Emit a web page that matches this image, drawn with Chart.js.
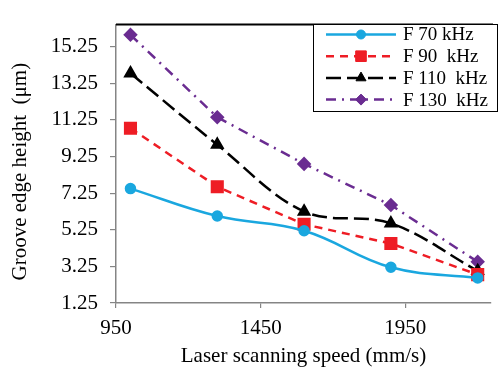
<!DOCTYPE html>
<html><head><meta charset="utf-8">
<script src="https://cdn.jsdelivr.net/npm/chart.js@4/dist/chart.umd.min.js"></script>
<style>html,body{margin:0;padding:0;background:#fff;overflow:hidden}</style>
</head><body>
<canvas id="c" width="501" height="367" style="display:block;width:501px;height:367px"></canvas>
<script>
const speeds = [1000, 1300, 1600, 1900, 2200];
const f70  = [7.5, 6.0, 5.2, 3.2, 2.62];
const f90  = [10.8, 7.6, 5.55, 4.5, 2.8];
const f110 = [13.8, 9.9, 6.25, 5.6, 3.0];
const f130 = [15.9, 11.4, 8.85, 6.6, 3.5];
const seriesLabels = ['F 70 kHz', 'F 90  kHz', 'F 110  kHz', 'F 130  kHz'];
const xTicks = [950, 1450, 1950];
const yTicks = [1.25, 3.25, 5.25, 7.25, 9.25, 11.25, 13.25, 15.25];
const xTitle = 'Laser scanning speed (mm/s)';
const yTitle = 'Groove edge height  (\u03bcm)   ';

const FONT = "'Liberation Serif', 'Times New Roman', serif";
const AXIS = '#858585';

function pts(arr){ return speeds.map((s,i)=>({x:s,y:arr[i]})); }

const legendPlugin = {
  id:'boxLegend',
  afterDraw(chart){
    const ctx = chart.ctx;
    ctx.save();
    const bx=313, by=24, bw=184, bh=87;
    ctx.fillStyle='#fff'; ctx.fillRect(bx,by,bw,bh);
    ctx.strokeStyle='#000'; ctx.lineWidth=1; ctx.strokeRect(bx+0.5,by+0.5,bw,bh);
    chart.data.datasets.forEach((ds,i)=>{
      const y = 34.5 + i*21.7;
      ctx.save();
      ctx.strokeStyle=ds.borderColor; ctx.lineWidth=ds.borderWidth;
      ctx.setLineDash(ds.borderDash||[]);
      ctx.beginPath(); ctx.moveTo(326,y); ctx.lineTo(396,y); ctx.stroke();
      ctx.setLineDash([]);
      ctx.fillStyle=ds.pointBackgroundColor; ctx.strokeStyle=ds.pointBackgroundColor; ctx.lineWidth=1;
      Chart.helpers.drawPoint(ctx,{pointStyle:ds.pointStyle,rotation:0,borderWidth:1,radius:ds.pointRadius},361,y);
      ctx.restore();
      ctx.fillStyle='#000'; ctx.font='19px '+FONT; ctx.textBaseline='middle'; ctx.textAlign='left';
      ctx.fillText(ds.label,403,y+1);
    });
    ctx.restore();
  }
};
const framePlugin = {
  id:'frame',
  beforeDatasetsDraw(chart){
    const {ctx, chartArea:a} = chart;
    ctx.save(); ctx.strokeStyle='#000'; ctx.lineWidth=2;
    ctx.beginPath(); ctx.moveTo(a.left, a.top); ctx.lineTo(a.right+2, a.top); ctx.stroke();
    ctx.restore();
  }
};

new Chart(document.getElementById('c'), {
  type:'line',
  data:{ datasets:[
    {label:seriesLabels[0], data:pts(f70), borderColor:'#1aa7df', pointBackgroundColor:'#1aa7df', pointBorderColor:'#1aa7df', borderWidth:2.5, pointStyle:'circle', pointRadius:4.5, tension:0.4},
    {label:seriesLabels[1], data:pts(f90), borderColor:'#ee1d25', pointBackgroundColor:'#ee1d25', pointBorderColor:'#ee1d25', borderWidth:2.5, borderDash:[8,6], pointStyle:'rect', pointRadius:7.5, tension:0},
    {label:seriesLabels[2], data:pts(f110), borderColor:'#000000', pointBackgroundColor:'#000000', pointBorderColor:'#000000', borderWidth:2.5, borderDash:[15,6], pointStyle:'triangle', pointRadius:5.8, tension:0.35},
    {label:seriesLabels[3], data:pts(f130), borderColor:'#6a2c91', pointBackgroundColor:'#6a2c91', pointBorderColor:'#6a2c91', borderWidth:2.5, borderDash:[10,6,2,6], pointStyle:'rectRot', pointRadius:5.5, tension:0}
  ]},
  options:{
    responsive:false, animation:false, clip:false,
    layout:{padding:{top:13,right:0,left:0,bottom:0}},
    plugins:{legend:{display:false}, tooltip:{enabled:false}},
    scales:{
      x:{type:'linear', min:950, max:2246,
        afterBuildTicks(s){ s.ticks = xTicks.map(v=>({value:v})); },
        afterFit(s){ s.height = 64; },
        grid:{display:true, drawOnChartArea:false, tickLength:5, color:AXIS, lineWidth:1.2},
        border:{color:AXIS, width:1.5},
        ticks:{font:{family:FONT,size:21}, color:'#000', padding:8, maxRotation:0, autoSkip:false, callback:v=>String(v)},
        title:{display:true, text:xTitle, font:{family:FONT,size:21}, color:'#000', padding:{top:0,bottom:-2}}
      },
      y:{type:'linear', min:1.25, max:16.46,
        afterBuildTicks(s){ s.ticks = yTicks.map(v=>({value:v})); },
        afterFit(s){ s.width = 116; },
        grid:{display:true, drawOnChartArea:false, tickLength:6, color:AXIS, lineWidth:1.2},
        border:{color:AXIS, width:1.5},
        ticks:{font:{family:FONT,size:21}, color:'#000', padding:12, callback:v=>v.toFixed(2), autoSkip:false},
        title:{display:true, text:yTitle, font:{family:FONT,size:21}, color:'#000', padding:{top:8,bottom:0}}
      }
    }
  },
  plugins:[framePlugin, legendPlugin]
});
</script>
</body></html>
